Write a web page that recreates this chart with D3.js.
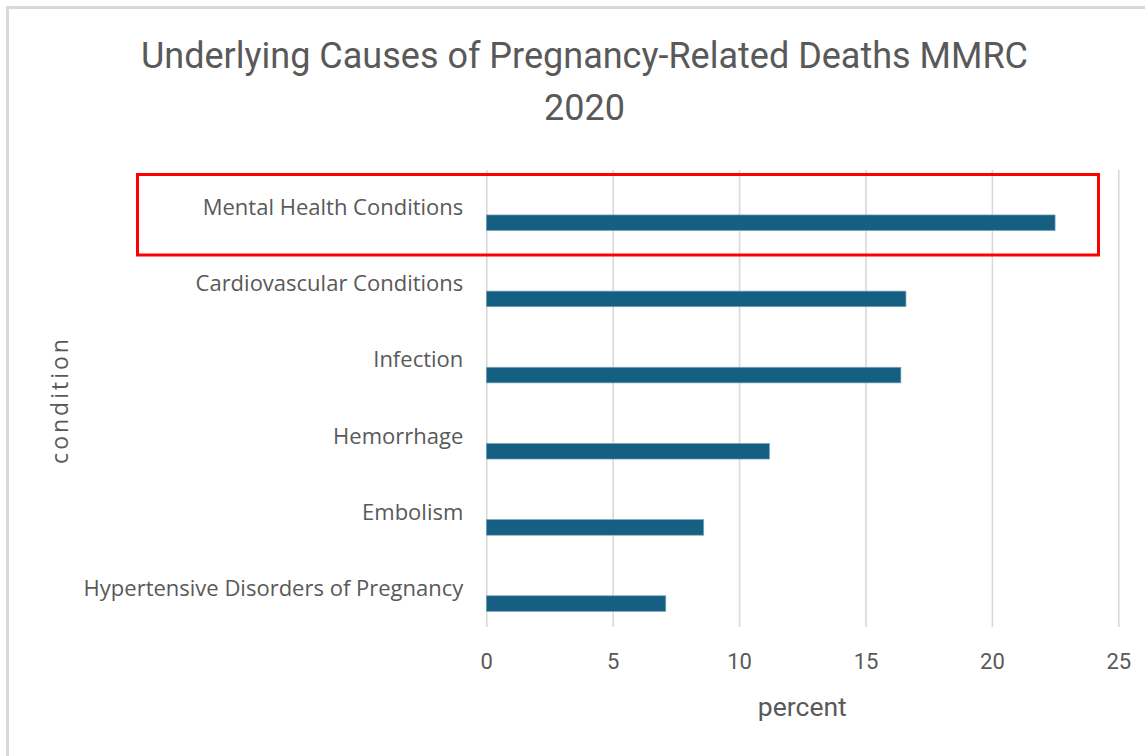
<!DOCTYPE html>
<html>
<head>
<meta charset="utf-8">
<script src="https://cdn.jsdelivr.net/npm/d3@7"></script>
<style>
  html, body { margin: 0; padding: 0; background: #ffffff; }
  svg { display: block; }
</style>
</head>
<body>
<svg id="chart" width="1145" height="756"></svg>
<script>
// Underlying causes of pregnancy-related deaths, MMRC 2020 (percent of deaths)
const conditions = [
  "Mental Health Conditions",
  "Cardiovascular Conditions",
  "Infection",
  "Hemorrhage",
  "Embolism",
  "Hypertensive Disorders of Pregnancy"
];
const percents = [22.5, 16.6, 16.4, 11.2, 8.6, 7.1];
const xTicks = [0, 5, 10, 15, 20, 25];
const titleLines = ["Underlying Causes of Pregnancy-Related Deaths MMRC", "2020"];
const highlighted = "Mental Health Conditions";

const data = conditions.map((c, i) => ({ condition: c, value: percents[i] }));

const svg = d3.select("#chart");
const W = 1145, H = 756;
const plot = { left: 486.3, right: 1118.3, top: 170, bottom: 627 };

const textColor = "#595959";
const gridColor = "#d9d9d9";
const barColor = "#156082";
const narrowFont = "'Roboto', 'Liberation Sans', sans-serif";
const labelFont = "'Open Sans', 'Noto Sans', sans-serif";

// Chart area frame (left and top edges visible)
svg.append("path")
  .attr("d", `M7.5,${H + 5} L7.5,7.5 L${W + 5},7.5`)
  .attr("fill", "none")
  .attr("stroke", "#d9d9d9")
  .attr("stroke-width", 3);

const x = d3.scaleLinear().domain([0, 25]).range([plot.left, plot.right]);
const y = d3.scaleBand().domain(conditions).range([plot.top, plot.bottom]).padding(0);
const bw = y.bandwidth();

// Vertical gridlines + tick labels
const xAxis = d3.axisBottom(x).tickValues(xTicks).tickSize(-(plot.bottom - plot.top)).tickPadding(26);
const gx = svg.append("g")
  .attr("transform", `translate(0,${plot.bottom})`)
  .call(xAxis);
gx.select(".domain").remove();
gx.selectAll(".tick line").attr("stroke", gridColor).attr("stroke-width", 1.6);
gx.selectAll(".tick text")
  .attr("fill", textColor)
  .style("font-family", narrowFont)
  .style("font-size", "22px");

// Category labels
const yAxis = d3.axisLeft(y).tickSize(0).tickPadding(23);
const gy = svg.append("g")
  .attr("transform", `translate(${plot.left},0)`)
  .call(yAxis);
gy.select(".domain").remove();
gy.selectAll(".tick text")
  .attr("fill", textColor)
  .style("font-family", labelFont)
  .style("font-size", "22px");

// Bars
svg.append("g").selectAll("rect")
  .data(data)
  .join("rect")
  .attr("x", x(0))
  .attr("y", d => y(d.condition) + bw * 0.59)
  .attr("width", d => x(d.value) - x(0))
  .attr("height", bw * 0.205)
  .attr("fill", barColor)
  .attr("stroke", "#7fa6ba")
  .attr("stroke-width", 0.7);

// Title
svg.append("text")
  .attr("x", 584.5)
  .attr("text-anchor", "middle")
  .attr("fill", textColor)
  .style("font-family", narrowFont)
  .style("font-size", "36px")
  .selectAll("tspan")
  .data(titleLines)
  .join("tspan")
  .attr("x", 584.5)
  .attr("y", (d, i) => 68 + i * 52)
  .text(d => d);

// Axis titles
svg.append("text")
  .attr("x", (plot.left + plot.right) / 2)
  .attr("y", 716)
  .attr("text-anchor", "middle")
  .attr("fill", textColor)
  .style("font-family", narrowFont)
  .style("font-size", "26.5px")
  .text("percent");

svg.append("text")
  .attr("transform", `translate(68,${(plot.top + plot.bottom) / 2 + 1.5}) rotate(-90)`)
  .attr("text-anchor", "middle")
  .attr("fill", textColor)
  .style("font-family", labelFont)
  .style("font-size", "23px")
  .style("letter-spacing", "3px")
  .text("condition");

// Highlight box around the leading cause
const hy = y(highlighted);
svg.append("rect")
  .attr("x", 137.5)
  .attr("y", hy + 4.5)
  .attr("width", 1098.5 - 137.5)
  .attr("height", 80.5)
  .attr("fill", "none")
  .attr("stroke", "#ff0000")
  .attr("stroke-width", 3);
</script>
</body>
</html>
